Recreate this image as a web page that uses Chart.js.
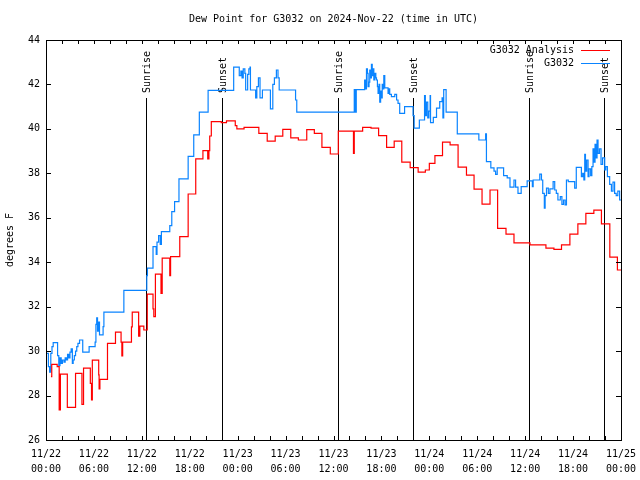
<!DOCTYPE html>
<html>
<head>
<meta charset="utf-8">
<title>Dew Point for G3032</title>
<script src="https://cdn.jsdelivr.net/npm/chart.js@4.4.1/dist/chart.umd.min.js"></script>
<style>
  html, body { margin: 0; padding: 0; background: #fff; }
  #wrap { width: 640px; height: 480px; }
</style>
</head>
<body>
<div id="wrap"><canvas id="grafico" width="640" height="480"></canvas></div>
<script>
// ==============================
// DATA (hours since 11/22 00:00 UTC, deg F)
// ==============================
const TITLE = "Dew Point for G3032 on 2024-Nov-22 (time in UTC)";
const Y_LABEL = "degrees F";

const xTickDates = ["11/22","11/22","11/22","11/22","11/23","11/23","11/23","11/23","11/24","11/24","11/24","11/24","11/25"];
const xTickTimes = ["00:00","06:00","12:00","18:00","00:00","06:00","12:00","18:00","00:00","06:00","12:00","18:00","00:00"];

const sunNames = ["Sunrise","Sunset","Sunrise","Sunset","Sunrise","Sunset"];
const sunHours = [12.5, 22.05, 36.55, 45.9, 60.5, 69.9];

const analysisTimes = [
  0.62, 0.72, 1.4, 1.65, 1.8, 2.67, 3.7, 4.5, 4.7, 5.55, 5.7, 5.8, 6.6, 6.65, 6.75,
  7.7, 8.7, 9.4, 9.5, 9.6, 10.7, 10.8, 11.6, 11.75, 12.25, 12.68, 13.4, 13.5, 13.7,
  14.4, 14.55, 15.5, 15.6, 16.75, 17.8, 18.75, 19.65, 20.25, 20.4, 20.5, 20.7, 21.95,
  22.6, 23.7, 23.9, 24.8, 26.65, 27.7, 28.7, 29.65, 30.65, 31.6, 32.65, 33.6, 34.55,
  35.6, 36.6, 38.5, 38.6, 39.65, 40.7, 41.65, 42.65, 43.6, 44.55, 45.6, 46.6, 47.5,
  48.0, 48.7, 49.65, 50.6, 51.6, 52.65, 53.6, 54.6, 55.6, 56.55, 57.6, 58.6, 60.6,
  62.6, 63.6, 64.55, 65.6, 66.6, 67.6, 68.6, 69.55, 70.6, 71.55, 72
];
const analysisValues = [
  28.85, 29.4, 29.3, 27.35, 28.96, 27.47, 29.0, 27.6, 29.23, 28.55, 27.8, 29.59, 28.93, 28.3, 28.73,
  30.35, 30.85, 30.4, 29.78, 30.4, 31.09, 31.75, 30.67, 31.12, 30.95, 32.56, 31.9, 31.55, 33.46,
  32.6, 34.18, 33.4, 34.25, 35.15, 37.07, 38.65, 39.02, 38.65, 39.02, 39.68, 40.33, 40.28,
  40.36, 40.15, 40.0, 40.07, 39.8, 39.45, 39.67, 39.98, 39.6, 39.5, 39.97, 39.8, 39.17,
  38.87, 39.9, 38.9, 39.9, 40.07, 40.03, 39.7, 39.17, 39.45, 38.5, 38.26, 38.05, 38.15,
  38.45, 38.8, 39.4, 39.28, 38.28, 37.92, 37.29, 36.61, 37.25, 35.52, 35.26, 34.87, 34.78,
  34.63, 34.58, 34.78, 35.26, 35.73, 36.2, 36.34, 35.73, 34.23, 33.65, 33.65
];

const obsTimes = [
  0.05, 0.3, 0.45, 0.6, 0.75, 0.9, 1.45, 1.6, 1.75, 1.9, 2.05, 2.25, 2.4, 2.55, 2.7, 2.85,
  3.0, 3.15, 3.3, 3.4, 3.55, 3.7, 3.85, 4.0, 4.2, 4.6, 5.4, 6.15, 6.25, 6.35, 6.45, 6.55,
  6.7, 7.15, 7.25, 9.75, 12.62, 12.7, 13.4, 13.8, 13.9, 14.1, 14.3, 14.45, 15.5, 15.75,
  16.1, 16.65, 17.8, 18.5, 19.2, 20.3, 23.5, 24.2, 24.4, 24.55, 24.7, 24.9, 25.0, 25.25,
  25.4, 25.55, 25.6, 26.25, 26.4, 26.6, 26.8, 27.1, 28.1, 28.4, 28.6, 28.85, 29.05, 29.2,
  31.25, 31.4, 38.6, 38.7, 38.85, 39.9, 40.0, 40.13, 40.25, 40.33, 40.45, 40.54, 40.65,
  40.75, 40.85, 40.96, 41.05, 41.17, 41.3, 41.38, 41.5, 41.58, 41.7, 41.79, 41.9, 42.0,
  42.1, 42.21, 42.3, 42.42, 42.83, 42.95, 43.04, 43.25, 43.67, 43.9, 44.08, 44.29, 44.9,
  45.96, 46.1, 46.75, 47.4, 47.5, 47.63, 47.8, 47.95, 48.1, 48.15, 48.5, 48.9, 49.3, 49.6,
  49.7, 49.8, 50.1, 51.5, 54.2, 55.05, 55.15, 55.7, 56.1, 56.3, 56.5, 57.3, 57.75, 58.1,
  58.6, 58.8, 59.1, 59.5, 60.25, 60.9, 61.0, 61.83, 62.04, 62.2, 62.4, 62.5, 62.67, 62.9,
  63.1, 63.5, 63.7, 63.9, 64.1, 64.4, 64.6, 64.8, 65.0, 65.17, 65.4, 66.2, 66.4, 67.04,
  67.2, 67.35, 67.46, 67.55, 67.7, 67.875, 68.0, 68.2, 68.35, 68.5, 68.6, 68.75, 68.9,
  69.0, 69.125, 69.3, 69.5, 69.7, 69.96, 70.1, 70.3, 70.58, 70.8, 71.0, 71.2, 71.4, 71.6,
  71.83, 72.0
];
const obsValues = [
  29.9, 29.3, 29.05, 29.9, 30.2, 30.38, 29.8, 29.35, 29.7, 29.45, 29.6, 29.5, 29.7, 29.6, 29.85, 29.7,
  29.95, 30.1, 29.45, 29.6, 29.8, 30.0, 30.2, 30.35, 30.5, 29.95, 30.2, 30.4, 31.2, 31.5, 30.9, 31.3,
  30.73, 31.1, 31.75, 32.73, 33.4, 33.73, 34.7, 34.35, 34.9, 35.2, 34.8, 35.38, 35.65, 36.28,
  36.73, 37.75, 38.76, 39.73, 40.75, 41.73, 42.78, 42.4, 42.6, 42.3, 42.7, 42.5, 41.75, 42.45,
  42.7, 42.78, 41.75, 41.4, 41.9, 42.3, 41.4, 41.75, 40.9, 42.0, 42.3, 42.65, 42.3, 41.75,
  41.3, 40.75, 41.77, 40.75, 41.77, 42.2, 41.8, 42.7, 42.5, 41.9, 42.1, 42.65, 42.3,
  42.9, 42.4, 42.7, 42.2, 42.5, 42.3, 42.2, 41.9, 41.6, 42.0, 41.2, 41.7, 41.4,
  42.0, 41.8, 42.4, 41.85, 41.6, 41.8, 41.55, 41.45, 41.55, 41.3, 41.15, 40.7, 41.0,
  40.6, 40.03, 40.4, 41.5, 40.6, 41.2, 40.5, 40.8, 41.5, 40.28, 40.52, 40.93, 41.23, 41.4,
  40.5, 41.77, 40.75, 39.78, 39.5, 39.78, 38.53, 38.25, 38.1, 37.95, 38.25, 37.9, 37.8, 37.38,
  37.7, 37.38, 37.1, 37.4, 37.66, 37.4, 37.7, 37.96, 37.7, 37.1, 36.43, 37.0, 37.33, 37.1,
  37.3, 37.63, 37.25, 37.1, 36.8, 36.95, 36.6, 36.8, 36.58, 37.7, 37.63, 37.33, 38.27, 37.85,
  38.0, 37.7, 38.85, 38.1, 38.6, 37.85, 38.2, 37.9, 38.3, 39.1, 38.5, 39.3, 38.7,
  39.5, 38.9, 39.1, 38.4, 38.7, 38.15, 38.3, 37.85, 37.5, 37.2, 37.6, 37.1, 37.0, 37.2,
  36.8, 36.8
];

// ==============================
// STYLE
// ==============================
const FONT_FAMILY = "'DejaVu Sans Mono', monospace";
const FONT_SIZE = 10;
const FONT = `${FONT_SIZE}px ${FONT_FAMILY}`;
const RED = "#ff0000";
const BLUE = "#0a84ff";

const $ = (id) => document.getElementById(id);

function toPoints(times, values){
  return times.map((t, i) => ({ x: t, y: values[i] }));
}

function crisp(v){ return Math.round(v) + 0.5; }

// ==============================
// PLUGIN: frame, ticks, sun lines, legend, titles
// ==============================
const gnuplotLook = {
  id: "gnuplotLook",
  beforeDatasetsDraw(chart){
    const { ctx, chartArea: a, scales: { x } } = chart;
    ctx.save();
    ctx.strokeStyle = "#000";
    ctx.fillStyle = "#000";
    ctx.lineWidth = 1;
    ctx.font = FONT;

    const lineTop = a.top + 58;
    sunHours.forEach((h, i) => {
      const px = crisp(x.getPixelForValue(h));
      ctx.beginPath();
      ctx.moveTo(px, lineTop);
      ctx.lineTo(px, a.bottom);
      ctx.stroke();

      ctx.save();
      ctx.translate(px + 1, lineTop - 5);
      ctx.rotate(-Math.PI / 2);
      ctx.textAlign = "left";
      ctx.textBaseline = "middle";
      ctx.fillText(sunNames[i], 0, 0);
      ctx.restore();
    });
    ctx.restore();
  },
  afterDatasetsDraw(chart){
    const { ctx, chartArea: a, scales: { x, y } } = chart;
    ctx.save();
    ctx.strokeStyle = "#000";
    ctx.fillStyle = "#000";
    ctx.lineWidth = 1;

    // frame
    ctx.strokeRect(crisp(a.left), crisp(a.top), Math.round(a.right - a.left), Math.round(a.bottom - a.top));

    // inward ticks
    ctx.beginPath();
    for (let h = 0; h <= 72; h += 2){
      const px = crisp(x.getPixelForValue(h));
      ctx.moveTo(px, a.bottom); ctx.lineTo(px, a.bottom - 4);
      ctx.moveTo(px, a.top); ctx.lineTo(px, a.top + 4);
    }
    for (let v = 26; v <= 44; v += 2){
      const py = crisp(y.getPixelForValue(v));
      ctx.moveTo(a.left, py); ctx.lineTo(a.left + 5, py);
      ctx.moveTo(a.right, py); ctx.lineTo(a.right - 5, py);
    }
    ctx.stroke();

    ctx.font = FONT;

    // legend
    chart.data.datasets.forEach((ds, i) => {
      const ly = 50 + i * 13;
      ctx.textAlign = "right";
      ctx.textBaseline = "middle";
      ctx.fillStyle = "#000";
      ctx.fillText(ds.label, 574, ly);
      ctx.strokeStyle = ds.borderColor;
      ctx.beginPath();
      ctx.moveTo(581, crisp(ly));
      ctx.lineTo(610, crisp(ly));
      ctx.stroke();
    });

    // title
    ctx.fillStyle = "#000";
    ctx.textAlign = "center";
    ctx.textBaseline = "middle";
    ctx.fillText(TITLE, (a.left + a.right) / 2, 19);

    // y axis label
    ctx.save();
    ctx.translate(10, (a.top + a.bottom) / 2);
    ctx.rotate(-Math.PI / 2);
    ctx.fillText(Y_LABEL, 0, 0);
    ctx.restore();

    ctx.restore();
  }
};

// ==============================
// CHART
// ==============================
Chart.defaults.font.family = FONT_FAMILY;
Chart.defaults.font.size = FONT_SIZE;
Chart.defaults.color = "#000";

new Chart($("grafico"), {
  type: "line",
  data: {
    datasets: [
      { label: "G3032 Analysis", data: toPoints(analysisTimes, analysisValues), borderColor: RED, borderWidth: 1.2, stepped: true, pointRadius: 0, fill: false },
      { label: "G3032", data: toPoints(obsTimes, obsValues), borderColor: BLUE, borderWidth: 1.2, stepped: true, pointRadius: 0, fill: false }
    ]
  },
  options: {
    responsive: false,
    animation: false,
    devicePixelRatio: 1,
    layout: { padding: { left: 0, top: 40, right: 19, bottom: 0 } },
    plugins: { legend: { display: false }, tooltip: { enabled: false }, title: { display: false } },
    scales: {
      x: {
        type: "linear",
        min: 0,
        max: 72,
        grid: { display: false, drawTicks: false },
        border: { display: false },
        afterFit: (s) => { s.height = 40; s.paddingLeft = 0; s.paddingRight = 0; },
        ticks: {
          stepSize: 6,
          autoSkip: false,
          maxRotation: 0,
          padding: 7,
          font: { size: FONT_SIZE, lineHeight: 1.5 },
          callback: (v) => {
            const i = Math.round(v / 6);
            return [xTickDates[i], xTickTimes[i]];
          }
        }
      },
      y: {
        min: 26,
        max: 44,
        grid: { display: false, drawTicks: false },
        border: { display: false },
        afterFit: (s) => { s.width = 46; s.paddingTop = 0; s.paddingBottom = 0; },
        ticks: { stepSize: 2, padding: 6 }
      }
    }
  },
  plugins: [gnuplotLook]
});
</script>
</body>
</html>
